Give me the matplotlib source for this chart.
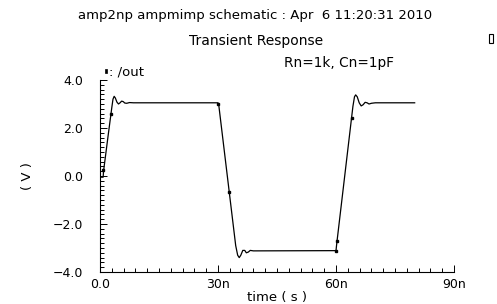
import matplotlib
matplotlib.use("Agg")
import matplotlib.pyplot as plt
from matplotlib.ticker import MultipleLocator, FuncFormatter
from matplotlib.patches import Rectangle

# waveform /out (time in ns, volts)
t_ns = [0, 0.8, 0.9, 2.0, 3.0, 3.3, 3.6, 3.9, 4.3, 4.7, 5.1, 5.5, 5.9, 6.3, 6.8, 7.5, 8.5, 30.0,
        30.2, 34.5, 35.0, 35.4, 35.8, 36.3, 36.8, 37.2, 37.7, 38.2, 39.0, 60.0,
        60.2, 64.3, 64.7, 65.0, 65.4, 65.9, 66.4, 66.9, 67.4, 67.9, 68.4, 69.0, 70.0, 80.0]
v_out = [-0.05, -0.05, 0.2, 1.6, 2.85, 3.2, 3.32, 3.25, 3.08, 3.0, 3.05, 3.12, 3.1, 3.04, 3.03, 3.06, 3.05, 3.05,
         2.95, -2.9, -3.3, -3.4, -3.3, -3.1, -3.1, -3.2, -3.17, -3.1, -3.12, -3.11,
         -2.8, 2.9, 3.3, 3.38, 3.3, 3.05, 2.92, 2.97, 3.07, 3.05, 3.0, 3.03, 3.05, 3.05]

# point markers drawn on the trace
mark_t = [0.85, 2.8, 30.0, 32.9, 60.0, 60.3, 64.1]
mark_v = [0.25, 2.6, 3.0, -0.65, -3.11, -2.7, 2.4]

x_ticks = [0, 30, 60, 90]
x_labels = ["0.0", "30n", "60n", "90n"]
y_ticks = [-4, -2, 0, 2, 4]

W, H = 497, 304
fig = plt.figure(figsize=(W / 100, H / 100), dpi=100)
ax = fig.add_axes([100 / W, 32 / H, 354 / W, 192 / H])

ax.plot(t_ns, v_out, color="black", lw=0.9)
ax.plot(mark_t, mark_v, ls="none", marker="s", ms=1.8, color="black")

ax.set_xlim(0, 90)
ax.set_ylim(-4, 4)
ax.set_xticks(x_ticks)
ax.set_xticklabels(x_labels)
ax.set_yticks(y_ticks)
ax.yaxis.set_major_formatter(FuncFormatter(lambda v, p: f"{v:.1f}".replace("-", "\u2212")))
ax.xaxis.set_minor_locator(MultipleLocator(3))
ax.yaxis.set_minor_locator(MultipleLocator(0.2))

for s in ["top", "right"]:
    ax.spines[s].set_visible(False)
for s in ["left", "bottom"]:
    ax.spines[s].set_linewidth(0.8)

ax.tick_params(which="both", direction="in", labelsize=9, width=0.7)
ax.tick_params(which="major", length=5)
ax.tick_params(which="minor", length=3)
ax.tick_params(axis="x", which="major", pad=4)
ax.tick_params(axis="y", which="major", pad=12)

ax.set_xlabel("time ( s )", fontsize=9.5, labelpad=0)
ax.set_ylabel("( V )", fontsize=9.5, labelpad=14)

# header texts
fig.text(255 / W, 1 - 15 / H, "amp2np ampmimp schematic : Apr  6 11:20:31 2010",
         ha="center", va="center", fontsize=9.5)
fig.text(256 / W, 1 - 41 / H, "Transient Response", ha="center", va="center", fontsize=10)
fig.text(284 / W, 1 - 63 / H, "Rn=1k, Cn=1pF", ha="left", va="center", fontsize=9.8)
fig.text(109 / W, 1 - 72 / H, ": /out", ha="left", va="center", fontsize=9.5)
fig.patches.append(Rectangle((104.5 / W, 1 - 73 / H), 2 / W, 4 / H, transform=fig.transFigure,
                             facecolor="black", edgecolor="black", lw=0.5))
fig.patches.append(Rectangle((489 / W, 1 - 43 / H), 4 / W, 9 / H, transform=fig.transFigure,
                             facecolor="none", edgecolor="black", lw=0.8))

fig.savefig("out.png", dpi=100)
